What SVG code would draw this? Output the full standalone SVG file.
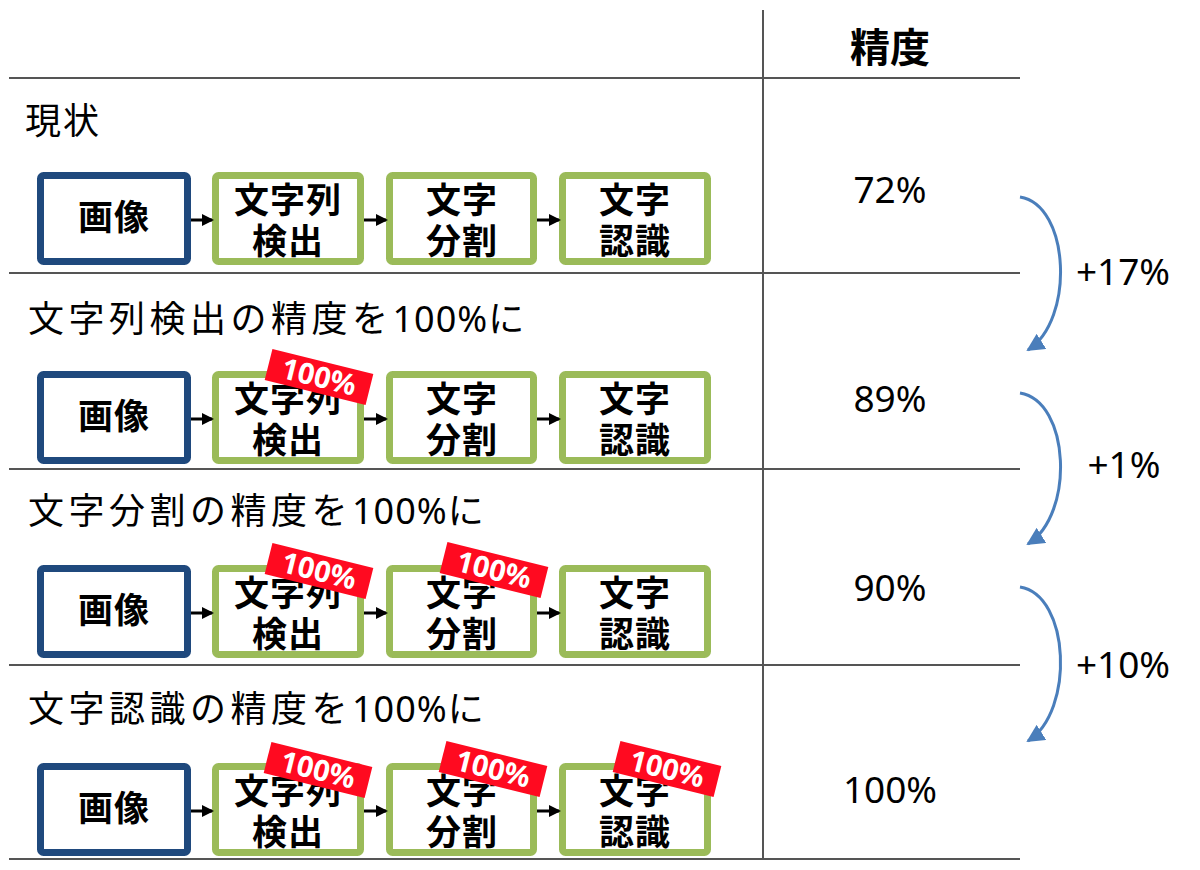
<svg xmlns="http://www.w3.org/2000/svg" width="1200" height="870" viewBox="0 0 1200 870">
<defs>
<style>
.grid{stroke:#555;stroke-width:2;fill:none}
.img{fill:#fff;stroke:#1F497D;stroke-width:7}
.proc{fill:#fff;stroke:#9BBB59;stroke-width:7}
.bt{font-family:"Noto Sans CJK JP","Noto Sans",sans-serif;font-weight:bold;font-size:35px;fill:#000;text-anchor:middle;letter-spacing:1px}
.title{font-family:"Noto Sans","Noto Sans CJK JP",sans-serif;font-size:36px;fill:#000;letter-spacing:4.5px}
.num{letter-spacing:1px}
.pct{font-family:"Noto Sans","Noto Sans CJK JP",sans-serif;font-size:37px;fill:#000;text-anchor:middle}
.hdr{font-family:"Noto Sans CJK JP","Noto Sans",sans-serif;font-weight:bold;font-size:40px;fill:#000;text-anchor:middle}
.tag{fill:#FF0A20}
.tagt{font-family:"Noto Sans","Liberation Sans",sans-serif;font-weight:bold;font-size:29px;fill:#fff;text-anchor:middle}
.flow{stroke:#000;stroke-width:3;fill:none;marker-end:url(#ah)}
.curve{stroke:#4A7EBB;stroke-width:3;fill:none;marker-end:url(#bh)}
</style>
<marker id="ah" markerWidth="12" markerHeight="12" refX="10" refY="6" orient="auto" markerUnits="userSpaceOnUse">
<path d="M0,0 L12,6 L0,12 Z" fill="#000"/>
</marker>
<marker id="bh" markerWidth="18" markerHeight="18" refX="16" refY="9" orient="auto" markerUnits="userSpaceOnUse">
<path d="M0,0 L18,9 L0,18 Z" fill="#4A7EBB"/>
</marker>
<g id="row">
<rect class="img" x="40.5" y="3.5" width="147" height="86" rx="3"/>
<rect class="proc" x="215.5" y="3.5" width="145" height="86" rx="3"/>
<rect class="proc" x="389.5" y="3.5" width="144" height="86" rx="3"/>
<rect class="proc" x="562.5" y="3.5" width="145" height="86" rx="3"/>
<text class="bt" x="114" y="58">画像</text>
<text class="bt" x="288" y="41">文字列</text>
<text class="bt" x="288" y="82">検出</text>
<text class="bt" x="462" y="41">文字</text>
<text class="bt" x="462" y="82">分割</text>
<text class="bt" x="635" y="41">文字</text>
<text class="bt" x="635" y="82">認識</text>
</g>
<g id="tag100">
<rect class="tag" x="-52" y="-16" width="104" height="32"/>
<text class="tagt" x="0" y="10">100%</text>
</g>
</defs>

<g id="table">
<line class="grid" x1="763" y1="10" x2="763" y2="860"/>
<line class="grid" x1="9" y1="78" x2="1020" y2="78"/>
<line class="grid" x1="9" y1="273" x2="1020" y2="273"/>
<line class="grid" x1="9" y1="469" x2="1020" y2="469"/>
<line class="grid" x1="9" y1="665" x2="1020" y2="665"/>
<line class="grid" x1="9" y1="859" x2="1020" y2="859"/>
<text class="hdr" x="890" y="62">精度</text>
</g>

<g id="row1">
<text class="title" x="25" y="134" style="letter-spacing:2px">現状</text>
<use href="#row" transform="translate(0,172)"/>
<text class="pct" x="890" y="203">72%</text>
</g>

<g id="row2">
<text class="title" x="28" y="332">文字列検出の精度を<tspan class="num">100%</tspan>に</text>
<use href="#row" transform="translate(0,371)"/>
<use href="#tag100" transform="translate(319,377) rotate(14)"/>
<text class="pct" x="890" y="412">89%</text>
</g>

<g id="row3">
<text class="title" x="28" y="524">文字分割の精度を<tspan class="num">100%</tspan>に</text>
<use href="#row" transform="translate(0,565)"/>
<use href="#tag100" transform="translate(319,571) rotate(14)"/>
<use href="#tag100" transform="translate(494,570) rotate(14)"/>
<text class="pct" x="890" y="601">90%</text>
</g>

<g id="row4">
<text class="title" x="28" y="722">文字認識の精度を<tspan class="num">100%</tspan>に</text>
<use href="#row" transform="translate(0,763)"/>
<use href="#tag100" transform="translate(318,770) rotate(14)"/>
<use href="#tag100" transform="translate(493,769) rotate(14)"/>
<use href="#tag100" transform="translate(667,769) rotate(14)"/>
<text class="pct" x="890" y="803">100%</text>
</g>

<g id="gains">
<text class="pct" x="1123" y="285">+17%</text>
<text class="pct" x="1124" y="478">+1%</text>
<text class="pct" x="1123" y="678">+10%</text>
</g>

<g id="connectors">
<path class="flow" d="M191,220 H212"/>
<path class="flow" d="M364,220 H386"/>
<path class="flow" d="M537,220 H559"/>
<path class="flow" d="M191,419 H212"/>
<path class="flow" d="M364,419 H386"/>
<path class="flow" d="M537,419 H559"/>
<path class="flow" d="M191,613 H212"/>
<path class="flow" d="M364,613 H386"/>
<path class="flow" d="M537,613 H559"/>
<path class="flow" d="M191,811 H212"/>
<path class="flow" d="M364,811 H386"/>
<path class="flow" d="M537,811 H559"/>
<path class="curve" d="M1020,197 C1070,205 1075,320 1028,350"/>
<path class="curve" d="M1020,393 C1070,401 1075,514 1028,544"/>
<path class="curve" d="M1020,587 C1070,595 1075,711 1028,741"/>
</g>
</svg>
